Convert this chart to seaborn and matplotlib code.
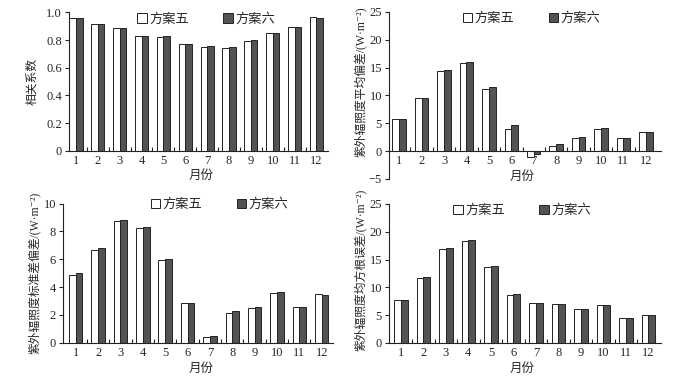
import pandas as pd
import seaborn as sns
import matplotlib.pyplot as plt
from matplotlib.ticker import FixedLocator

# --- data ------------------------------------------------------------------
months = [str(m) for m in range(1, 13)]
schemes = ["方案五", "方案六"]

corr_s5 = [0.957, 0.913, 0.889, 0.827, 0.822, 0.769, 0.752, 0.746, 0.796, 0.851, 0.894, 0.965]
corr_s6 = [0.957, 0.913, 0.889, 0.831, 0.827, 0.772, 0.758, 0.751, 0.801, 0.853, 0.896, 0.963]

mean_bias_s5 = [5.7, 9.6, 14.3, 15.8, 11.1, 4.0, -1.0, 1.0, 2.3, 3.9, 2.3, 3.4]
mean_bias_s6 = [5.8, 9.6, 14.5, 16.0, 11.5, 4.6, -0.6, 1.3, 2.6, 4.1, 2.4, 3.4]

std_bias_s5 = [4.9, 6.7, 8.73, 8.25, 5.97, 2.83, 0.41, 2.13, 2.47, 3.55, 2.54, 3.48]
std_bias_s6 = [5.0, 6.8, 8.83, 8.35, 6.02, 2.83, 0.48, 2.25, 2.59, 3.62, 2.59, 3.45]

rmse_s5 = [7.65, 11.75, 16.9, 18.3, 13.6, 8.7, 7.2, 7.05, 6.1, 6.75, 4.45, 5.05]
rmse_s6 = [7.65, 11.8, 17.0, 18.55, 13.9, 8.85, 7.15, 7.05, 6.15, 6.85, 4.45, 5.1]

unit = "/(W·m⁻²)"
ylabels = ["相关系数",
           "紫外辐照度平均偏差" + unit,
           "紫外辐照度标准差偏差" + unit,
           "紫外辐照度均方根误差" + unit]

# --- style ----------------------------------------------------------------
sns.set_theme(style="ticks")
plt.rcParams["font.family"] = ["Liberation Serif", "Noto Sans CJK SC", "DejaVu Sans"]
plt.rcParams["axes.linewidth"] = 0.8
plt.rcParams["axes.edgecolor"] = "#222222"

fig = plt.figure(figsize=(6.92, 3.84), dpi=100)

panels = [
    # values5, values6, ylim, yticks, rect, xlim, legend xy, xlabel xy, ylabel xy
    dict(v5=corr_s5, v6=corr_s6, ylim=(0, 1.0), yticks=[0, 0.2, 0.4, 0.6, 0.8, 1.0],
         rect=[0.0997, 0.6076, 0.374, 0.360], xlim=(-0.32, 11.52),
         leg=(0.53, 0.95), xl=(0.51, -0.14), yl=(-0.12, 0.5)),
    dict(v5=mean_bias_s5, v6=mean_bias_s6, ylim=(-5, 25), yticks=[-5, 0, 5, 10, 15, 20, 25],
         rect=[0.562, 0.534, 0.393, 0.435], xlim=(-0.46, 11.67),
         leg=(0.525, 0.958), xl=(0.49, 0.048), yl=(-0.082, 0.58)),
    dict(v5=std_bias_s5, v6=std_bias_s6, ylim=(0, 10), yticks=[0, 2, 4, 6, 8, 10],
         rect=[0.091, 0.1076, 0.39, 0.362], xlim=(-0.57, 11.5),
         leg=(0.58, 0.99), xl=(0.51, -0.146), yl=(-0.082, 0.5)),
    dict(v5=rmse_s5, v6=rmse_s6, ylim=(0, 25), yticks=[0, 5, 10, 15, 20, 25],
         rect=[0.562, 0.107, 0.393, 0.362], xlim=(-0.53, 11.55),
         leg=(0.49, 0.95), xl=(0.49, -0.144), yl=(-0.082, 0.525)),
]

for p, ylabel in zip(panels, ylabels):
    ax = fig.add_axes(p["rect"])
    df = pd.DataFrame({
        "month": months * 2,
        "value": p["v5"] + p["v6"],
        "scheme": [schemes[0]] * 12 + [schemes[1]] * 12,
    })
    sns.barplot(data=df, x="month", y="value", hue="scheme", order=months,
                hue_order=schemes, palette=["white", "#535353"], width=0.6,
                gap=0, edgecolor="#222222", linewidth=0.7, saturation=1,
                ax=ax)

    ax.set_ylim(*p["ylim"])
    ax.set_yticks(p["yticks"])
    if p["ylim"][1] == 1.0:
        ax.set_yticklabels(["0", "0.2", "0.4", "0.6", "0.8", "1.0"])
    ax.set_xlim(*p["xlim"])
    if p["ylim"][0] < 0:
        ax.spines["bottom"].set_position(("data", 0))

    sns.despine(ax=ax)
    ax.tick_params(axis="y", direction="out", length=3, width=0.8, labelsize=9, pad=2)
    ax.tick_params(axis="x", which="major", length=0, labelsize=9, pad=3)
    ax.xaxis.set_minor_locator(FixedLocator([i + 0.5 for i in range(11)]))
    ax.tick_params(axis="x", which="minor", direction="in", length=3, width=0.8)

    ax.set_xlabel("月份", fontsize=9)
    ax.set_ylabel(ylabel, fontsize=8.5)
    ax.xaxis.set_label_coords(*p["xl"])
    ax.yaxis.set_label_coords(*p["yl"])

    handles, labels = ax.get_legend_handles_labels()
    ax.legend(handles, labels, ncol=2, frameon=False, loc="center",
              bbox_to_anchor=p["leg"], handlelength=0.7, handleheight=0.7,
              handletextpad=0.2, columnspacing=2.6, fontsize=9.5)

fig.savefig("out.png", dpi=100)
